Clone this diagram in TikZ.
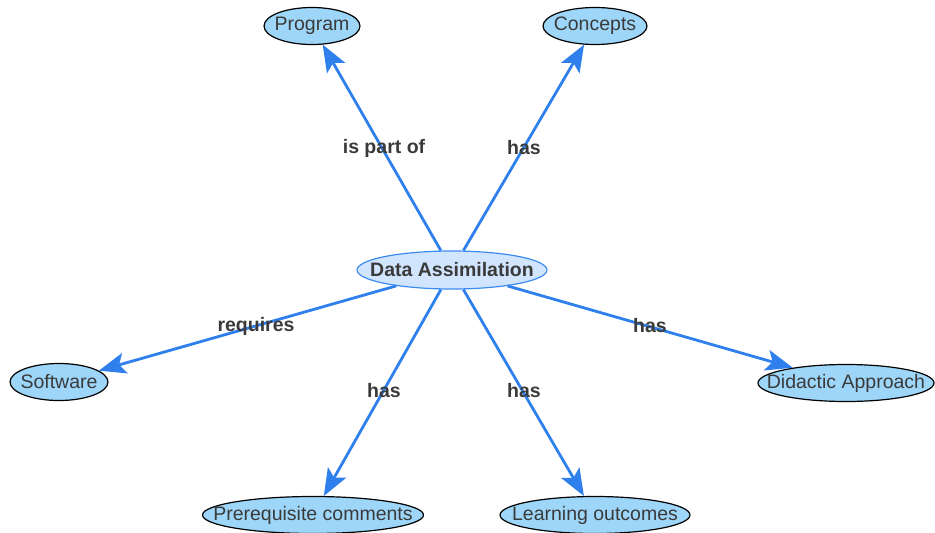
\documentclass[tikz,border=0pt]{standalone}
\usepackage{fontspec}
\setmainfont{Liberation Sans}
\usetikzlibrary{shapes.geometric,arrows.meta}
\definecolor{edgeblue}{HTML}{2F80ED}
\definecolor{leaffill}{HTML}{9DD6F8}
\definecolor{hubfill}{HTML}{D2E5FF}
\definecolor{hubline}{HTML}{3C8CF0}
\definecolor{txt}{HTML}{3A3A3A}
% the text is boxed at zero width so that the ellipse size is set by minimum width alone
\newcommand{\zw}[1]{\makebox[0pt]{#1}}
\tikzset{
  leaf/.style={ellipse, draw=black, line width=1.2pt, fill=leaffill, inner sep=0pt,
    minimum height=37pt, text=txt, font=\fontsize{19.5}{22}\selectfont},
  hub/.style={ellipse, draw=hubline, line width=1.2pt, fill=hubfill, inner sep=0pt,
    minimum width=190pt, minimum height=38pt, text=txt, font=\fontsize{19.5}{22}\selectfont\bfseries},
  link/.style={draw=edgeblue, line width=2.8pt,
    -{Stealth[length=27pt,width=21pt,inset=6pt]}},
  lbl/.style={text=txt, font=\fontsize{19.5}{22}\selectfont\bfseries, inner sep=1pt}
}
\begin{document}
\begin{tikzpicture}[x=1pt,y=-1pt]
\useasboundingbox (0,0) rectangle (935,533);
\node[hub] (da) at (452,270) {\zw{Data Assimilation}};
\node[leaf, minimum width=96pt] (prog) at (312,26) {\zw{Program}};
\node[leaf, minimum width=104pt] (conc) at (595,26) {\zw{Concepts}};
\node[leaf, minimum width=98pt] (soft) at (59,382) {\zw{Software}};
\node[leaf, minimum width=176pt] (did) at (846,383) {\zw{Didactic Approach}};
\node[leaf, minimum width=221pt] (pre) at (313,515) {\zw{Prerequisite comments}};
\node[leaf, minimum width=190pt] (learn) at (595,515) {\zw{Learning outcomes}};
\draw[link] (da) -- (prog);
\draw[link] (da) -- (conc);
\draw[link] (da) -- (soft);
\draw[link] (da) -- (did);
\draw[link] (da) -- (pre);
\draw[link] (da) -- (learn);
\node[lbl] (l1) at (384,148) {is part of};
\node[lbl] (l2) at (524,148) {has};
\node[lbl] (l3) at (256,326) {requires};
\node[lbl] (l4) at (650,326) {has};
\node[lbl] (l5) at (384,391) {has};
\node[lbl] (l6) at (524,391) {has};
\end{tikzpicture}
\end{document}
